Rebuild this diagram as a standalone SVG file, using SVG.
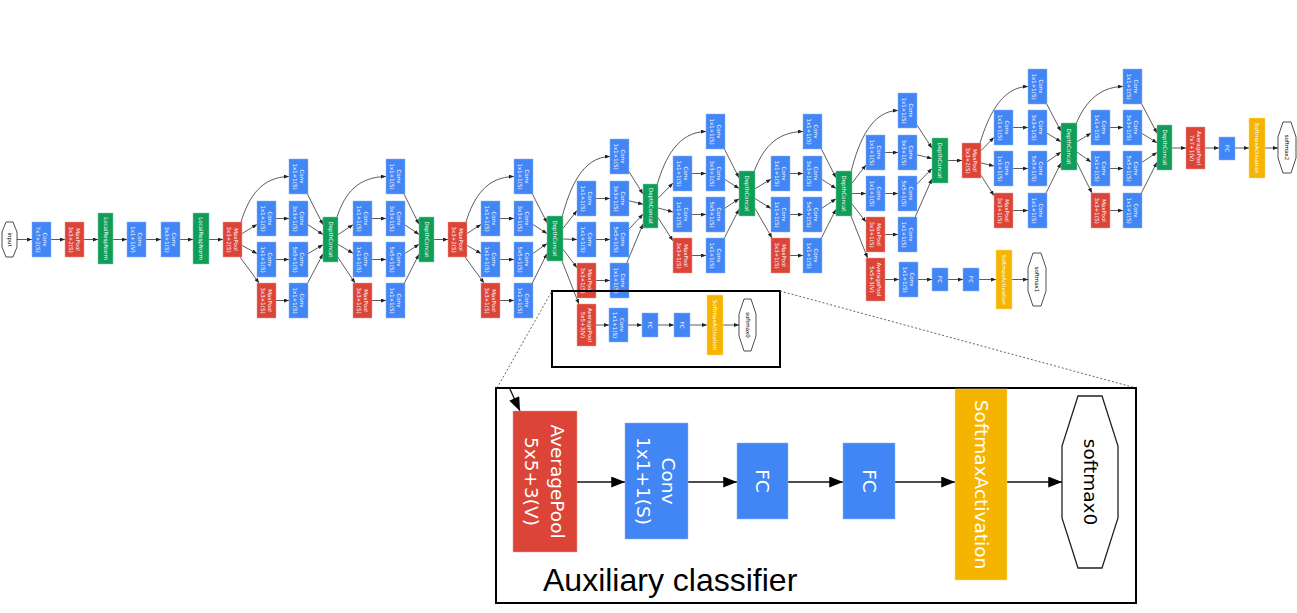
<svg xmlns="http://www.w3.org/2000/svg" width="1297" height="613" viewBox="0 0 1297 613">
<style>
.b{fill:#4285F4;stroke:#8fb5f8;stroke-width:.5}.r{fill:#DB4437;stroke:#ec9a92;stroke-width:.5}.g{fill:#0F9D58;stroke:#7fcca8;stroke-width:.5}.y{fill:#F4B400;stroke:#f9da80;stroke-width:.5}
.t{font-family:"DejaVu Sans",sans-serif;font-size:5.5px;fill:#fff;text-anchor:middle;dominant-baseline:central}
.t tspan,.T tspan{dominant-baseline:central}
.T{font-family:"DejaVu Sans",sans-serif;font-size:18.5px;fill:#fff;text-anchor:middle;dominant-baseline:central}
text.k{fill:#000}
.o{fill:#fff;stroke:#222;stroke-width:.8}
.e{fill:none;stroke:#333;stroke-width:.8;marker-end:url(#a)}
.E{fill:none;stroke:#111;stroke-width:1.3;marker-end:url(#A)}
.bx{fill:none;stroke:#000;stroke-width:2}
.dt{fill:none;stroke:#666;stroke-width:1;stroke-dasharray:2 2}
</style>
<defs>
<marker id="a" viewBox="0 0 10 8" refX="10" refY="4" markerWidth="5" markerHeight="4" orient="auto" markerUnits="userSpaceOnUse"><path d="M0,0L10,4L0,8z" fill="#222"/></marker>
<marker id="A" viewBox="0 0 10 8" refX="10" refY="4" markerWidth="15" markerHeight="11" orient="auto" markerUnits="userSpaceOnUse"><path d="M0,0L10,4L0,8z" fill="#000"/></marker>
</defs>
<rect width="1297" height="613" fill="#fff"/>
<g id="connectors">
<path class="e" d="M17 239.5H32"/><path class="e" d="M51 239.5H65"/><path class="e" d="M84 239.5H98"/><path class="e" d="M113 239.5H127"/><path class="e" d="M146 239.5H161"/><path class="e" d="M180 239.5H193"/><path class="e" d="M209 239.5H223"/>
<path class="e" d="M241 222C249 196 262 177 289 176.5"/><path class="e" d="M242 233.6L257 224.4"/><path class="e" d="M242 245.4L257 253.6"/><path class="e" d="M240 257L259 283"/>
<path class="e" d="M276 218.5H289"/><path class="e" d="M276 259.5H289"/><path class="e" d="M276 300.5H289"/>
<path class="e" d="M307.4 194L323 224.7"/><path class="e" d="M308 224.7L323 234.6"/><path class="e" d="M308 253.6L323 244.8"/><path class="e" d="M307.7 283L323 253.8"/>
<path class="e" d="M337 217C345 193 358 177 386 176.5"/><path class="e" d="M338 234.6L353 224.7"/><path class="e" d="M338 244.4L353 253.3"/><path class="e" d="M337 256L355 283"/>
<path class="e" d="M372 218.5H386"/><path class="e" d="M372 259.5H386"/><path class="e" d="M372 300.5H386"/>
<path class="e" d="M404 194L419 224.3"/><path class="e" d="M405 224.9L419 234.4"/><path class="e" d="M405 253.4L419 244.3"/><path class="e" d="M404.4 283L419 254.3"/>
<path class="e" d="M434 239.5H448"/>
<path class="e" d="M466 222C474 196 487 177 514 176.5"/><path class="e" d="M467 233.6L481 224.4"/><path class="e" d="M467 245.4L481 253.6"/><path class="e" d="M465 257L484 283"/>
<path class="e" d="M500 218.5H514"/><path class="e" d="M500 259.5H514"/><path class="e" d="M500 300.5H514"/>
<path class="e" d="M532.4 194L547 222.8"/><path class="e" d="M533 224.5L547 233.6"/><path class="e" d="M533 253.5L547 243.6"/><path class="e" d="M532.3 283L547 253.6"/>
<path class="e" d="M562 217C570 188 582 157 610 156.5"/><path class="e" d="M563 228.3L577 210.6"/><path class="e" d="M563 239L577 239.5"/><path class="e" d="M563 249.2L577 267.8"/><path class="e" d="M562 261L578.9 304"/>
<path class="e" d="M596 198.5H610"/><path class="e" d="M596 239.5H610"/><path class="e" d="M596 280.5H610"/>
<path class="e" d="M629 171.7L643 194"/><path class="e" d="M629 200.8L643 204.2"/><path class="e" d="M629 229.2L643 214.1"/><path class="e" d="M626.8 263L643 224"/>
<path class="e" d="M596 325H609"/><path class="e" d="M628 325H642"/><path class="e" d="M658 325H674"/><path class="e" d="M690 325H707"/><path class="e" d="M723 325H739"/>
<path class="e" d="M657 185C665 158 678 132 706 131.5"/><path class="e" d="M658 198.4L673 183.1"/><path class="e" d="M658 208L673 211.9"/><path class="e" d="M658 217.6L673 240.8"/>
<path class="e" d="M692 173.5H706"/><path class="e" d="M692 214.5H706"/><path class="e" d="M692 255.5H706"/>
<path class="e" d="M724.4 149L739 177.8"/><path class="e" d="M725 179.5L739 188.4"/><path class="e" d="M725 208.2L739 198.8"/><path class="e" d="M724.4 238L739 209.2"/>
<path class="e" d="M754 172C762 150 775 132 803 131.5"/><path class="e" d="M755 188.7L771 179.2"/><path class="e" d="M755 198.5L771 208.5"/><path class="e" d="M755 208.3L772 238"/>
<path class="e" d="M790 173.5H803"/><path class="e" d="M790 214.5H803"/><path class="e" d="M790 255.5H803"/>
<path class="e" d="M821.4 149L836 177.8"/><path class="e" d="M822 179.5L836 188.4"/><path class="e" d="M822 208.2L836 198.8"/><path class="e" d="M821.4 238L836 209.2"/>
<path class="e" d="M851 216L867.6 258"/>
<path class="e" d="M851 172C859 140 872 111 898 110.5"/><path class="e" d="M852 183.1L866 164.9"/><path class="e" d="M852 193.5H866"/><path class="e" d="M852 203.9L866 222.1"/>
<path class="e" d="M885 152.5H898"/><path class="e" d="M885 193.5H898"/><path class="e" d="M885 234.5H898"/>
<path class="e" d="M917 125.1L932 148.2"/><path class="e" d="M917 154.8L932 158.5"/><path class="e" d="M917 183.9L932 168.6"/><path class="e" d="M915.2 217L932 178.7"/>
<path class="e" d="M948 160.5H962"/>
<path class="e" d="M885 279.5H899"/><path class="e" d="M918 279.5H932"/><path class="e" d="M948 279.5H963"/><path class="e" d="M979 279.5H996"/><path class="e" d="M1012 279.5H1028"/>
<path class="e" d="M980 143C988 117 1001 87 1028 86.5"/><path class="e" d="M981 150.7L994 137.3"/><path class="e" d="M981 162.9L994 166.1"/><path class="e" d="M981 175.3L994 195.7"/>
<path class="e" d="M1013 127.5H1028"/><path class="e" d="M1013 168.5H1028"/><path class="e" d="M1013 210.5H1028"/>
<path class="e" d="M1046.7 104L1061 131.3"/><path class="e" d="M1047 133.2L1061 141.7"/><path class="e" d="M1047 161.9L1061 152.1"/><path class="e" d="M1046.1 193L1061 162.8"/>
<path class="e" d="M1076 124C1084 105 1097 87 1123 86.5"/><path class="e" d="M1077 141.7L1091 133.2"/><path class="e" d="M1077 152.1L1091 161.9"/><path class="e" d="M1077 162.8L1091.9 193"/>
<path class="e" d="M1110 127.5H1123"/><path class="e" d="M1110 168.5H1123"/><path class="e" d="M1110 210.5H1123"/>
<path class="e" d="M1141.7 104L1157 133.2"/><path class="e" d="M1142 133.4L1157 142.8"/><path class="e" d="M1142 162.3L1157 152.4"/><path class="e" d="M1141.4 193L1157 162.2"/>
<path class="e" d="M1172 148H1186"/><path class="e" d="M1205 148H1219"/><path class="e" d="M1235 148H1249"/><path class="e" d="M1265 148H1278"/>
<path class="E" d="M509 387L520 411"/>
<path class="E" d="M577 482H625"/><path class="E" d="M688 482H737"/><path class="E" d="M788 482H843"/><path class="E" d="M895 482H955"/><path class="E" d="M1007 482H1062"/>
</g>
<g id="stem">
<g id="input"><polygon class="o" points="6,222 13,222 17,232 17,247 13,257 6,257 2,247 2,232"/><text class="t k" transform="translate(9.5,239.5) rotate(90)">input</text></g>
<g id="conv1"><rect class="b" x="32" y="222" width="19" height="35"/><text class="t" transform="translate(41.5,239.5) rotate(90)"><tspan x="0" y="-3.2">Conv</tspan><tspan x="0" y="3.2">7x7+2(S)</tspan></text></g>
<g id="pool1"><rect class="r" x="65" y="222" width="19" height="35"/><text class="t" transform="translate(74.5,239.5) rotate(90)"><tspan x="0" y="-3.2">MaxPool</tspan><tspan x="0" y="3.2">3x3+2(S)</tspan></text></g>
<g id="lrn1"><rect class="g" x="98" y="213" width="15" height="51"/><text class="t" transform="translate(105.5,238.5) rotate(90)">LocalRespNorm</text></g>
<g id="conv2r"><rect class="b" x="127" y="222" width="19" height="35"/><text class="t" transform="translate(136.5,239.5) rotate(90)"><tspan x="0" y="-3.2">Conv</tspan><tspan x="0" y="3.2">1x1+1(V)</tspan></text></g>
<g id="conv2"><rect class="b" x="161" y="222" width="19" height="35"/><text class="t" transform="translate(170.5,239.5) rotate(90)"><tspan x="0" y="-3.2">Conv</tspan><tspan x="0" y="3.2">3x3+1(S)</tspan></text></g>
<g id="lrn2"><rect class="g" x="193" y="213" width="16" height="51"/><text class="t" transform="translate(201,238.5) rotate(90)">LocalRespNorm</text></g>
<g id="pool2"><rect class="r" x="223" y="222" width="19" height="35"/><text class="t" transform="translate(232.5,239.5) rotate(90)"><tspan x="0" y="-3.2">MaxPool</tspan><tspan x="0" y="3.2">3x3+2(S)</tspan></text></g>
</g>
<g id="inception3a">
<g id="i3a_1"><rect class="b" x="289" y="159" width="19" height="35"/><text class="t" transform="translate(298.5,176.5) rotate(90)"><tspan x="0" y="-3.2">Conv</tspan><tspan x="0" y="3.2">1x1+1(S)</tspan></text></g>
<g id="i3a_2a"><rect class="b" x="257" y="201" width="19" height="35"/><text class="t" transform="translate(266.5,218.5) rotate(90)"><tspan x="0" y="-3.2">Conv</tspan><tspan x="0" y="3.2">1x1+1(S)</tspan></text></g>
<g id="i3a_2b"><rect class="b" x="289" y="201" width="19" height="35"/><text class="t" transform="translate(298.5,218.5) rotate(90)"><tspan x="0" y="-3.2">Conv</tspan><tspan x="0" y="3.2">3x3+1(S)</tspan></text></g>
<g id="i3a_3a"><rect class="b" x="257" y="242" width="19" height="35"/><text class="t" transform="translate(266.5,259.5) rotate(90)"><tspan x="0" y="-3.2">Conv</tspan><tspan x="0" y="3.2">1x1+1(S)</tspan></text></g>
<g id="i3a_3b"><rect class="b" x="289" y="242" width="19" height="35"/><text class="t" transform="translate(298.5,259.5) rotate(90)"><tspan x="0" y="-3.2">Conv</tspan><tspan x="0" y="3.2">5x5+1(S)</tspan></text></g>
<g id="i3a_4a"><rect class="r" x="257" y="283" width="19" height="35"/><text class="t" transform="translate(266.5,300.5) rotate(90)"><tspan x="0" y="-3.2">MaxPool</tspan><tspan x="0" y="3.2">3x3+1(S)</tspan></text></g>
<g id="i3a_4b"><rect class="b" x="289" y="283" width="19" height="35"/><text class="t" transform="translate(298.5,300.5) rotate(90)"><tspan x="0" y="-3.2">Conv</tspan><tspan x="0" y="3.2">1x1+1(S)</tspan></text></g>
<g id="i3a_dc"><rect class="g" x="323" y="217" width="15" height="45"/><text class="t" transform="translate(330.5,239.5) rotate(90)">DepthConcat</text></g>
</g>
<g id="inception3b">
<g id="i3b_1"><rect class="b" x="386" y="159" width="19" height="35"/><text class="t" transform="translate(395.5,176.5) rotate(90)"><tspan x="0" y="-3.2">Conv</tspan><tspan x="0" y="3.2">1x1+1(S)</tspan></text></g>
<g id="i3b_2a"><rect class="b" x="353" y="201" width="19" height="35"/><text class="t" transform="translate(362.5,218.5) rotate(90)"><tspan x="0" y="-3.2">Conv</tspan><tspan x="0" y="3.2">1x1+1(S)</tspan></text></g>
<g id="i3b_2b"><rect class="b" x="386" y="201" width="19" height="35"/><text class="t" transform="translate(395.5,218.5) rotate(90)"><tspan x="0" y="-3.2">Conv</tspan><tspan x="0" y="3.2">3x3+1(S)</tspan></text></g>
<g id="i3b_3a"><rect class="b" x="353" y="242" width="19" height="35"/><text class="t" transform="translate(362.5,259.5) rotate(90)"><tspan x="0" y="-3.2">Conv</tspan><tspan x="0" y="3.2">1x1+1(S)</tspan></text></g>
<g id="i3b_3b"><rect class="b" x="386" y="242" width="19" height="35"/><text class="t" transform="translate(395.5,259.5) rotate(90)"><tspan x="0" y="-3.2">Conv</tspan><tspan x="0" y="3.2">5x5+1(S)</tspan></text></g>
<g id="i3b_4a"><rect class="r" x="353" y="283" width="19" height="35"/><text class="t" transform="translate(362.5,300.5) rotate(90)"><tspan x="0" y="-3.2">MaxPool</tspan><tspan x="0" y="3.2">3x3+1(S)</tspan></text></g>
<g id="i3b_4b"><rect class="b" x="386" y="283" width="19" height="35"/><text class="t" transform="translate(395.5,300.5) rotate(90)"><tspan x="0" y="-3.2">Conv</tspan><tspan x="0" y="3.2">1x1+1(S)</tspan></text></g>
<g id="i3b_dc"><rect class="g" x="419" y="217" width="15" height="45"/><text class="t" transform="translate(426.5,239.5) rotate(90)">DepthConcat</text></g>
</g>
<g id="pool3"><rect class="r" x="448" y="222" width="19" height="35"/><text class="t" transform="translate(457.5,239.5) rotate(90)"><tspan x="0" y="-3.2">MaxPool</tspan><tspan x="0" y="3.2">3x3+2(S)</tspan></text></g>
<g id="inception4a">
<g id="i4a_1"><rect class="b" x="514" y="159" width="19" height="35"/><text class="t" transform="translate(523.5,176.5) rotate(90)"><tspan x="0" y="-3.2">Conv</tspan><tspan x="0" y="3.2">1x1+1(S)</tspan></text></g>
<g id="i4a_2a"><rect class="b" x="481" y="201" width="19" height="35"/><text class="t" transform="translate(490.5,218.5) rotate(90)"><tspan x="0" y="-3.2">Conv</tspan><tspan x="0" y="3.2">1x1+1(S)</tspan></text></g>
<g id="i4a_2b"><rect class="b" x="514" y="201" width="19" height="35"/><text class="t" transform="translate(523.5,218.5) rotate(90)"><tspan x="0" y="-3.2">Conv</tspan><tspan x="0" y="3.2">3x3+1(S)</tspan></text></g>
<g id="i4a_3a"><rect class="b" x="481" y="242" width="19" height="35"/><text class="t" transform="translate(490.5,259.5) rotate(90)"><tspan x="0" y="-3.2">Conv</tspan><tspan x="0" y="3.2">1x1+1(S)</tspan></text></g>
<g id="i4a_3b"><rect class="b" x="514" y="242" width="19" height="35"/><text class="t" transform="translate(523.5,259.5) rotate(90)"><tspan x="0" y="-3.2">Conv</tspan><tspan x="0" y="3.2">5x5+1(S)</tspan></text></g>
<g id="i4a_4a"><rect class="r" x="481" y="283" width="19" height="35"/><text class="t" transform="translate(490.5,300.5) rotate(90)"><tspan x="0" y="-3.2">MaxPool</tspan><tspan x="0" y="3.2">3x3+1(S)</tspan></text></g>
<g id="i4a_4b"><rect class="b" x="514" y="283" width="19" height="35"/><text class="t" transform="translate(523.5,300.5) rotate(90)"><tspan x="0" y="-3.2">Conv</tspan><tspan x="0" y="3.2">1x1+1(S)</tspan></text></g>
<g id="i4a_dc"><rect class="g" x="547" y="216" width="16" height="45"/><text class="t" transform="translate(555,238.5) rotate(90)">DepthConcat</text></g>
</g>
<g id="inception4b">
<g id="i4b_1"><rect class="b" x="610" y="139" width="19" height="35"/><text class="t" transform="translate(619.5,156.5) rotate(90)"><tspan x="0" y="-3.2">Conv</tspan><tspan x="0" y="3.2">1x1+1(S)</tspan></text></g>
<g id="i4b_2a"><rect class="b" x="577" y="181" width="19" height="35"/><text class="t" transform="translate(586.5,198.5) rotate(90)"><tspan x="0" y="-3.2">Conv</tspan><tspan x="0" y="3.2">1x1+1(S)</tspan></text></g>
<g id="i4b_2b"><rect class="b" x="610" y="181" width="19" height="35"/><text class="t" transform="translate(619.5,198.5) rotate(90)"><tspan x="0" y="-3.2">Conv</tspan><tspan x="0" y="3.2">3x3+1(S)</tspan></text></g>
<g id="i4b_3a"><rect class="b" x="577" y="222" width="19" height="35"/><text class="t" transform="translate(586.5,239.5) rotate(90)"><tspan x="0" y="-3.2">Conv</tspan><tspan x="0" y="3.2">1x1+1(S)</tspan></text></g>
<g id="i4b_3b"><rect class="b" x="610" y="222" width="19" height="35"/><text class="t" transform="translate(619.5,239.5) rotate(90)"><tspan x="0" y="-3.2">Conv</tspan><tspan x="0" y="3.2">5x5+1(S)</tspan></text></g>
<g id="i4b_4a"><rect class="r" x="577" y="263" width="19" height="35"/><text class="t" transform="translate(586.5,280.5) rotate(90)"><tspan x="0" y="-3.2">MaxPool</tspan><tspan x="0" y="3.2">3x3+1(S)</tspan></text></g>
<g id="i4b_4b"><rect class="b" x="610" y="263" width="19" height="35"/><text class="t" transform="translate(619.5,280.5) rotate(90)"><tspan x="0" y="-3.2">Conv</tspan><tspan x="0" y="3.2">1x1+1(S)</tspan></text></g>
<g id="i4b_dc"><rect class="g" x="643" y="184" width="15" height="44"/><text class="t" transform="translate(650.5,206) rotate(90)">DepthConcat</text></g>
</g>
<g id="aux1">
<g id="a1_pool"><rect class="r" x="577" y="304" width="19" height="42"/><text class="t" transform="translate(586.5,325) rotate(90)"><tspan x="0" y="-3.2">AveragePool</tspan><tspan x="0" y="3.2">5x5+3(V)</tspan></text></g>
<g id="a1_conv"><rect class="b" x="609" y="308" width="19" height="34"/><text class="t" transform="translate(618.5,325) rotate(90)"><tspan x="0" y="-3.2">Conv</tspan><tspan x="0" y="3.2">1x1+1(S)</tspan></text></g>
<g id="a1_fc1"><rect class="b" x="642" y="313" width="16" height="24"/><text class="t" transform="translate(650,325) rotate(90)">FC</text></g>
<g id="a1_fc2"><rect class="b" x="674" y="313" width="16" height="24"/><text class="t" transform="translate(682,325) rotate(90)">FC</text></g>
<g id="a1_sm"><rect class="y" x="707" y="295" width="16" height="60"/><text class="t" transform="translate(715,325) rotate(90)">SoftmaxActivation</text></g>
<g id="softmax0"><polygon class="o" points="744,299 751,299 756,314 756,336 751,351 744,351 739,336 739,314"/><text class="t k" transform="translate(747.5,325) rotate(90)">softmax0</text></g>
</g>
<g id="inception4c">
<g id="i4c_1"><rect class="b" x="706" y="114" width="19" height="35"/><text class="t" transform="translate(715.5,131.5) rotate(90)"><tspan x="0" y="-3.2">Conv</tspan><tspan x="0" y="3.2">1x1+1(S)</tspan></text></g>
<g id="i4c_2a"><rect class="b" x="673" y="156" width="19" height="35"/><text class="t" transform="translate(682.5,173.5) rotate(90)"><tspan x="0" y="-3.2">Conv</tspan><tspan x="0" y="3.2">1x1+1(S)</tspan></text></g>
<g id="i4c_2b"><rect class="b" x="706" y="156" width="19" height="35"/><text class="t" transform="translate(715.5,173.5) rotate(90)"><tspan x="0" y="-3.2">Conv</tspan><tspan x="0" y="3.2">3x3+1(S)</tspan></text></g>
<g id="i4c_3a"><rect class="b" x="673" y="197" width="19" height="35"/><text class="t" transform="translate(682.5,214.5) rotate(90)"><tspan x="0" y="-3.2">Conv</tspan><tspan x="0" y="3.2">1x1+1(S)</tspan></text></g>
<g id="i4c_3b"><rect class="b" x="706" y="197" width="19" height="35"/><text class="t" transform="translate(715.5,214.5) rotate(90)"><tspan x="0" y="-3.2">Conv</tspan><tspan x="0" y="3.2">5x5+1(S)</tspan></text></g>
<g id="i4c_4a"><rect class="r" x="673" y="238" width="19" height="35"/><text class="t" transform="translate(682.5,255.5) rotate(90)"><tspan x="0" y="-3.2">MaxPool</tspan><tspan x="0" y="3.2">3x3+1(S)</tspan></text></g>
<g id="i4c_4b"><rect class="b" x="706" y="238" width="19" height="35"/><text class="t" transform="translate(715.5,255.5) rotate(90)"><tspan x="0" y="-3.2">Conv</tspan><tspan x="0" y="3.2">1x1+1(S)</tspan></text></g>
<g id="i4c_dc"><rect class="g" x="739" y="171" width="16" height="45"/><text class="t" transform="translate(747,193.5) rotate(90)">DepthConcat</text></g>
</g>
<g id="inception4d">
<g id="i4d_1"><rect class="b" x="803" y="114" width="19" height="35"/><text class="t" transform="translate(812.5,131.5) rotate(90)"><tspan x="0" y="-3.2">Conv</tspan><tspan x="0" y="3.2">1x1+1(S)</tspan></text></g>
<g id="i4d_2a"><rect class="b" x="771" y="156" width="19" height="35"/><text class="t" transform="translate(780.5,173.5) rotate(90)"><tspan x="0" y="-3.2">Conv</tspan><tspan x="0" y="3.2">1x1+1(S)</tspan></text></g>
<g id="i4d_2b"><rect class="b" x="803" y="156" width="19" height="35"/><text class="t" transform="translate(812.5,173.5) rotate(90)"><tspan x="0" y="-3.2">Conv</tspan><tspan x="0" y="3.2">3x3+1(S)</tspan></text></g>
<g id="i4d_3a"><rect class="b" x="771" y="197" width="19" height="35"/><text class="t" transform="translate(780.5,214.5) rotate(90)"><tspan x="0" y="-3.2">Conv</tspan><tspan x="0" y="3.2">1x1+1(S)</tspan></text></g>
<g id="i4d_3b"><rect class="b" x="803" y="197" width="19" height="35"/><text class="t" transform="translate(812.5,214.5) rotate(90)"><tspan x="0" y="-3.2">Conv</tspan><tspan x="0" y="3.2">5x5+1(S)</tspan></text></g>
<g id="i4d_4a"><rect class="r" x="771" y="238" width="19" height="35"/><text class="t" transform="translate(780.5,255.5) rotate(90)"><tspan x="0" y="-3.2">MaxPool</tspan><tspan x="0" y="3.2">3x3+1(S)</tspan></text></g>
<g id="i4d_4b"><rect class="b" x="803" y="238" width="19" height="35"/><text class="t" transform="translate(812.5,255.5) rotate(90)"><tspan x="0" y="-3.2">Conv</tspan><tspan x="0" y="3.2">1x1+1(S)</tspan></text></g>
<g id="i4d_dc"><rect class="g" x="836" y="171" width="16" height="45"/><text class="t" transform="translate(844,193.5) rotate(90)">DepthConcat</text></g>
</g>
<g id="inception4e">
<g id="i4e_1"><rect class="b" x="898" y="93" width="19" height="35"/><text class="t" transform="translate(907.5,110.5) rotate(90)"><tspan x="0" y="-3.2">Conv</tspan><tspan x="0" y="3.2">1x1+1(S)</tspan></text></g>
<g id="i4e_2a"><rect class="b" x="866" y="135" width="19" height="35"/><text class="t" transform="translate(875.5,152.5) rotate(90)"><tspan x="0" y="-3.2">Conv</tspan><tspan x="0" y="3.2">1x1+1(S)</tspan></text></g>
<g id="i4e_2b"><rect class="b" x="898" y="135" width="19" height="35"/><text class="t" transform="translate(907.5,152.5) rotate(90)"><tspan x="0" y="-3.2">Conv</tspan><tspan x="0" y="3.2">3x3+1(S)</tspan></text></g>
<g id="i4e_3a"><rect class="b" x="866" y="176" width="19" height="35"/><text class="t" transform="translate(875.5,193.5) rotate(90)"><tspan x="0" y="-3.2">Conv</tspan><tspan x="0" y="3.2">1x1+1(S)</tspan></text></g>
<g id="i4e_3b"><rect class="b" x="898" y="176" width="19" height="35"/><text class="t" transform="translate(907.5,193.5) rotate(90)"><tspan x="0" y="-3.2">Conv</tspan><tspan x="0" y="3.2">5x5+1(S)</tspan></text></g>
<g id="i4e_4a"><rect class="r" x="866" y="217" width="19" height="35"/><text class="t" transform="translate(875.5,234.5) rotate(90)"><tspan x="0" y="-3.2">MaxPool</tspan><tspan x="0" y="3.2">3x3+1(S)</tspan></text></g>
<g id="i4e_4b"><rect class="b" x="898" y="217" width="19" height="35"/><text class="t" transform="translate(907.5,234.5) rotate(90)"><tspan x="0" y="-3.2">Conv</tspan><tspan x="0" y="3.2">1x1+1(S)</tspan></text></g>
<g id="i4e_dc"><rect class="g" x="932" y="138" width="16" height="45"/><text class="t" transform="translate(940,160.5) rotate(90)">DepthConcat</text></g>
</g>
<g id="aux2">
<g id="a2_pool"><rect class="r" x="866" y="258" width="19" height="43"/><text class="t" transform="translate(875.5,279.5) rotate(90)"><tspan x="0" y="-3.2">AveragePool</tspan><tspan x="0" y="3.2">5x5+3(V)</tspan></text></g>
<g id="a2_conv"><rect class="b" x="899" y="262" width="19" height="35"/><text class="t" transform="translate(908.5,279.5) rotate(90)"><tspan x="0" y="-3.2">Conv</tspan><tspan x="0" y="3.2">1x1+1(S)</tspan></text></g>
<g id="a2_fc1"><rect class="b" x="932" y="268" width="16" height="23"/><text class="t" transform="translate(940,279.5) rotate(90)">FC</text></g>
<g id="a2_fc2"><rect class="b" x="963" y="268" width="16" height="23"/><text class="t" transform="translate(971,279.5) rotate(90)">FC</text></g>
<g id="a2_sm"><rect class="y" x="996" y="250" width="16" height="59"/><text class="t" transform="translate(1004,279.5) rotate(90)">SoftmaxActivation</text></g>
<g id="softmax1"><polygon class="o" points="1033,253 1041,253 1046,268 1046,291 1041,306 1033,306 1028,291 1028,268"/><text class="t k" transform="translate(1037,279.5) rotate(90)">softmax1</text></g>
</g>
<g id="pool4"><rect class="r" x="962" y="143" width="19" height="35"/><text class="t" transform="translate(971.5,160.5) rotate(90)"><tspan x="0" y="-3.2">MaxPool</tspan><tspan x="0" y="3.2">3x3+2(S)</tspan></text></g>
<g id="inception5a">
<g id="i5a_1"><rect class="b" x="1028" y="69" width="19" height="35"/><text class="t" transform="translate(1037.5,86.5) rotate(90)"><tspan x="0" y="-3.2">Conv</tspan><tspan x="0" y="3.2">1x1+1(S)</tspan></text></g>
<g id="i5a_2a"><rect class="b" x="994" y="110" width="19" height="35"/><text class="t" transform="translate(1003.5,127.5) rotate(90)"><tspan x="0" y="-3.2">Conv</tspan><tspan x="0" y="3.2">1x1+1(S)</tspan></text></g>
<g id="i5a_2b"><rect class="b" x="1028" y="110" width="19" height="35"/><text class="t" transform="translate(1037.5,127.5) rotate(90)"><tspan x="0" y="-3.2">Conv</tspan><tspan x="0" y="3.2">3x3+1(S)</tspan></text></g>
<g id="i5a_3a"><rect class="b" x="994" y="151" width="19" height="35"/><text class="t" transform="translate(1003.5,168.5) rotate(90)"><tspan x="0" y="-3.2">Conv</tspan><tspan x="0" y="3.2">1x1+1(S)</tspan></text></g>
<g id="i5a_3b"><rect class="b" x="1028" y="151" width="19" height="35"/><text class="t" transform="translate(1037.5,168.5) rotate(90)"><tspan x="0" y="-3.2">Conv</tspan><tspan x="0" y="3.2">5x5+1(S)</tspan></text></g>
<g id="i5a_4a"><rect class="r" x="994" y="193" width="19" height="35"/><text class="t" transform="translate(1003.5,210.5) rotate(90)"><tspan x="0" y="-3.2">MaxPool</tspan><tspan x="0" y="3.2">3x3+1(S)</tspan></text></g>
<g id="i5a_4b"><rect class="b" x="1028" y="193" width="19" height="35"/><text class="t" transform="translate(1037.5,210.5) rotate(90)"><tspan x="0" y="-3.2">Conv</tspan><tspan x="0" y="3.2">1x1+1(S)</tspan></text></g>
<g id="i5a_dc"><rect class="g" x="1061" y="123" width="16" height="47"/><text class="t" transform="translate(1069,146.5) rotate(90)">DepthConcat</text></g>
</g>
<g id="inception5b">
<g id="i5b_1"><rect class="b" x="1123" y="69" width="19" height="35"/><text class="t" transform="translate(1132.5,86.5) rotate(90)"><tspan x="0" y="-3.2">Conv</tspan><tspan x="0" y="3.2">1x1+1(S)</tspan></text></g>
<g id="i5b_2a"><rect class="b" x="1091" y="110" width="19" height="35"/><text class="t" transform="translate(1100.5,127.5) rotate(90)"><tspan x="0" y="-3.2">Conv</tspan><tspan x="0" y="3.2">1x1+1(S)</tspan></text></g>
<g id="i5b_2b"><rect class="b" x="1123" y="110" width="19" height="35"/><text class="t" transform="translate(1132.5,127.5) rotate(90)"><tspan x="0" y="-3.2">Conv</tspan><tspan x="0" y="3.2">3x3+1(S)</tspan></text></g>
<g id="i5b_3a"><rect class="b" x="1091" y="151" width="19" height="35"/><text class="t" transform="translate(1100.5,168.5) rotate(90)"><tspan x="0" y="-3.2">Conv</tspan><tspan x="0" y="3.2">1x1+1(S)</tspan></text></g>
<g id="i5b_3b"><rect class="b" x="1123" y="151" width="19" height="35"/><text class="t" transform="translate(1132.5,168.5) rotate(90)"><tspan x="0" y="-3.2">Conv</tspan><tspan x="0" y="3.2">5x5+1(S)</tspan></text></g>
<g id="i5b_4a"><rect class="r" x="1091" y="193" width="19" height="35"/><text class="t" transform="translate(1100.5,210.5) rotate(90)"><tspan x="0" y="-3.2">MaxPool</tspan><tspan x="0" y="3.2">3x3+1(S)</tspan></text></g>
<g id="i5b_4b"><rect class="b" x="1123" y="193" width="19" height="35"/><text class="t" transform="translate(1132.5,210.5) rotate(90)"><tspan x="0" y="-3.2">Conv</tspan><tspan x="0" y="3.2">1x1+1(S)</tspan></text></g>
<g id="i5b_dc"><rect class="g" x="1157" y="125" width="15" height="45"/><text class="t" transform="translate(1164.5,147.5) rotate(90)">DepthConcat</text></g>
</g>
<g id="head">
<g id="avgpool"><rect class="r" x="1186" y="127" width="19" height="42"/><text class="t" transform="translate(1195.5,148) rotate(90)"><tspan x="0" y="-3.2">AveragePool</tspan><tspan x="0" y="3.2">7x7+1(V)</tspan></text></g>
<g id="fc"><rect class="b" x="1219" y="137" width="16" height="23"/><text class="t" transform="translate(1227,148.5) rotate(90)">FC</text></g>
<g id="sm2"><rect class="y" x="1249" y="118" width="16" height="60"/><text class="t" transform="translate(1257,148) rotate(90)">SoftmaxActivation</text></g>
<g id="softmax2"><polygon class="o" points="1283,122 1291,122 1296,137 1296,158 1291,173 1283,173 1278,158 1278,137"/><text class="t k" transform="translate(1287,147.5) rotate(90)">softmax2</text></g>
</g>
<g id="callout">
<rect class="bx" x="552" y="291" width="228" height="76"/>
<path class="dt" d="M497 388L552 291M780 291L1136 388"/>
<rect class="bx" x="496" y="388" width="640" height="215"/>
<text x="543" y="591" font-family="Liberation Sans, Arial, sans-serif" font-size="32" fill="#000">Auxiliary classifier</text>
</g>
<g id="inset">
<g id="x_pool"><rect class="r" x="513" y="411" width="64" height="141"/><text class="T" transform="translate(545,481.5) rotate(90)"><tspan x="0" y="-13">AveragePool</tspan><tspan x="0" y="13">5x5+3(V)</tspan></text></g>
<g id="x_conv"><rect class="b" x="625" y="423" width="63" height="116"/><text class="T" transform="translate(656.5,481) rotate(90)"><tspan x="0" y="-12.5">Conv</tspan><tspan x="0" y="12.5">1x1+1(S)</tspan></text></g>
<g id="x_fc1"><rect class="b" x="737" y="443" width="51" height="76"/><text class="T" transform="translate(762.5,481) rotate(90)">FC</text></g>
<g id="x_fc2"><rect class="b" x="843" y="443" width="52" height="76"/><text class="T" transform="translate(869,481) rotate(90)">FC</text></g>
<g id="x_sm"><rect class="y" x="955" y="389" width="52" height="191"/><text class="T" transform="translate(981,484.5) rotate(90)">SoftmaxActivation</text></g>
<g id="x_softmax0"><polygon class="o" style="stroke-width:1.3" points="1078,396 1102,396 1118,446 1118,518 1102,568 1078,568 1062,518 1062,446"/><text class="T k" transform="translate(1090,482) rotate(90)">softmax0</text></g>
</g>
</svg>
